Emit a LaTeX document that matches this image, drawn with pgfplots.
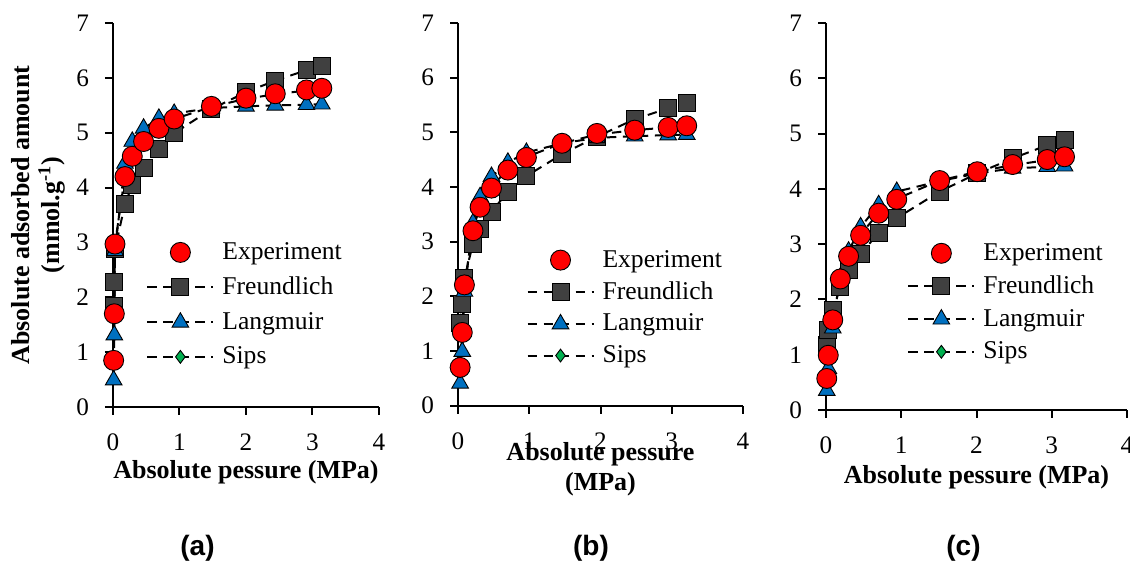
\documentclass[border=0pt]{standalone}
\usepackage{fontspec}
\setmainfont{Liberation Serif}
\newfontfamily\panfam{Liberation Sans}
\usepackage{pgfplots}
\pgfplotsset{compat=1.18}
\definecolor{cexp}{HTML}{FF0000}
\definecolor{cfr}{HTML}{404040}
\definecolor{cla}{HTML}{0070C0}
\definecolor{csi}{HTML}{00B050}
\newcommand{\tickfont}{\fontsize{12.6}{14}\selectfont}
\newcommand{\legfont}{\fontsize{12.8}{15}\selectfont}
\newcommand{\labfont}{\fontsize{13}{15}\selectfont\bfseries}
\newcommand{\panfont}{\panfam\fontsize{14}{16}\selectfont\bfseries}

\pgfplotstableread{
x     exp   fr    la    si
0.01  0.85  1.85  0.49  0.85
0.02  1.70  2.28  1.31  1.70
0.03  2.97  2.88  2.85  2.97
0.18  4.20  3.70  4.44  4.22
0.29  4.57  4.05  4.84  4.58
0.46  4.84  4.35  5.08  4.86
0.69  5.08  4.71  5.26  5.10
0.92  5.25  4.99  5.35  5.25
1.48  5.48  5.43  5.45  5.47
2.00  5.63  5.74  5.48  5.62
2.44  5.71  5.95  5.50  5.70
2.91  5.78  6.14  5.51  5.77
3.14  5.81  6.22  5.52  5.80
}\dataA
\pgfplotstableread{
x     exp   fr    la    si
0.03  0.70  1.51  0.41  0.72
0.06  1.34  1.87  0.99  1.36
0.09  2.21  2.33  2.09  2.20
0.21  3.20  2.96  3.34  3.22
0.31  3.63  3.23  3.82  3.65
0.47  3.98  3.55  4.19  4.00
0.70  4.31  3.91  4.45  4.33
0.96  4.54  4.20  4.63  4.55
1.46  4.80  4.60  4.80  4.80
1.95  4.98  4.92  4.90  4.96
2.48  5.04  5.24  4.93  5.04
2.95  5.09  5.44  4.95  5.09
3.21  5.12  5.53  4.96  5.12
}\dataB
\pgfplotstableread{
x     exp   fr    la    si
0.01  0.57  1.18  0.35  0.57
0.03  0.99  1.45  0.75  1.00
0.09  1.63  1.81  1.48  1.62
0.19  2.37  2.22  2.40  2.36
0.30  2.78  2.53  2.87  2.78
0.46  3.16  2.83  3.31  3.17
0.70  3.56  3.20  3.71  3.57
0.94  3.81  3.47  3.95  3.82
1.51  4.15  3.95  4.14  4.15
2.01  4.31  4.28  4.28  4.31
2.48  4.44  4.55  4.37  4.43
2.94  4.53  4.79  4.40  4.52
3.17  4.58  4.89  4.41  4.57
}\dataC

\pgfplotsset{
 panel/.style={
  scale only axis, axis lines=left, axis line style={line width=1pt,-},
  xmin=0,xmax=4,ymin=0,ymax=7,
  xtick={0,1,2,3,4}, ytick={0,1,...,7},
  tick align=outside, major tick length=4pt,
  every tick/.style={line width=1pt,black},
  tick label style={font=\tickfont},
  yticklabel style={xshift=-4.5pt},
  xticklabel style={yshift=-6pt},
  /pgf/number format/assume math mode=true,
  clip=false,
  label style={font=\labfont},
  legend cell align=left,
  legend style={draw=none,fill=none,font=\legfont,anchor=north west,inner sep=0pt,row sep=3.3pt},
  legend image code/.code={\draw[mark repeat=2,mark phase=2,##1] plot coordinates {(0pt,0pt) (16.5pt,0pt) (33pt,0pt)};\path (35pt,0pt);},
  ylabel style={align=center,at={(axis description cs:-0.282,0.5)},anchor=center},
 },
 dline/.style={black,line width=1pt,dash pattern=on 4.7pt off 3.3pt},
 sexp/.style={only marks,mark=*,mark size=5pt,mark options={solid,fill=cexp,draw=black,line width=0.45pt}},
 sfr/.style={dline,mark=square*,mark size=4.25pt,mark options={solid,fill=cfr,draw=black,line width=0.45pt}},
 sla/.style={dline,mark=triangle*,mark size=4.8pt,mark options={solid,fill=cla,draw=black,line width=0.45pt}},
 ssi/.style={dline,mark=diamond*,mark size=3.2pt,mark options={solid,fill=csi,draw=black,line width=0.45pt}},
}

\begin{document}
\begin{tikzpicture}
\useasboundingbox (0,0) rectangle (565pt,280.5pt);
% (a)
\begin{axis}[panel, at={(56.5pt,77pt)}, anchor=south west, width=133pt, height=192pt,
  xlabel={Absolute pessure (MPa)},
  ylabel={Absolute adsorbed amount\\(mmol.g\textsuperscript{-1})},
  xlabel style={at={(axis description cs:0.5,-0.169)},anchor=center},
  legend style={at={(axis description cs:0.124,0.44)}}]
\addplot[ssi,forget plot] table[x=x,y=si]{\dataA};
\addplot[sfr,forget plot] table[x=x,y=fr]{\dataA};
\addplot[sla,forget plot] table[x=x,y=la]{\dataA};
\addplot[sexp,forget plot] table[x=x,y=exp]{\dataA};
\addlegendimage{sexp}\addlegendentry{Experiment}
\addlegendimage{sfr}\addlegendentry{Freundlich}
\addlegendimage{sla}\addlegendentry{Langmuir}
\addlegendimage{ssi}\addlegendentry{Sips}
\end{axis}
% (b)
\begin{axis}[panel, at={(229pt,77.65pt)}, anchor=south west, width=142.5pt, height=191.35pt,
  xlabel={Absolute pessure\\(MPa)},
  xlabel style={align=center,at={(axis description cs:0.5,-0.167)},anchor=center},
  legend style={at={(axis description cs:0.239,0.418)},row sep=1.8pt}]
\addplot[ssi,forget plot] table[x=x,y=si]{\dataB};
\addplot[sfr,forget plot] table[x=x,y=fr]{\dataB};
\addplot[sla,forget plot] table[x=x,y=la]{\dataB};
\addplot[sexp,forget plot] table[x=x,y=exp]{\dataB};
\addlegendimage{sexp}\addlegendentry{Experiment}
\addlegendimage{sfr}\addlegendentry{Freundlich}
\addlegendimage{sla}\addlegendentry{Langmuir}
\addlegendimage{ssi}\addlegendentry{Sips}
\end{axis}
% (c)
\begin{axis}[panel, at={(413pt,75.5pt)}, anchor=south west, width=150.5pt, height=193.5pt,
  xlabel={Absolute pessure (MPa)},
  xlabel style={at={(axis description cs:0.5,-0.173)},anchor=center},
  legend style={at={(axis description cs:0.269,0.442)},row sep=2.3pt}]
\addplot[ssi,forget plot] table[x=x,y=si]{\dataC};
\addplot[sfr,forget plot] table[x=x,y=fr]{\dataC};
\addplot[sla,forget plot] table[x=x,y=la]{\dataC};
\addplot[sexp,forget plot] table[x=x,y=exp]{\dataC};
\addlegendimage{sexp}\addlegendentry{Experiment}
\addlegendimage{sfr}\addlegendentry{Freundlich}
\addlegendimage{sla}\addlegendentry{Langmuir}
\addlegendimage{ssi}\addlegendentry{Sips}
\end{axis}
\node[font=\panfont] at (98.75pt,6.5pt) {(a)};
\node[font=\panfont] at (295.5pt,6.5pt) {(b)};
\node[font=\panfont] at (481.75pt,6.5pt) {(c)};
\end{tikzpicture}
\end{document}
